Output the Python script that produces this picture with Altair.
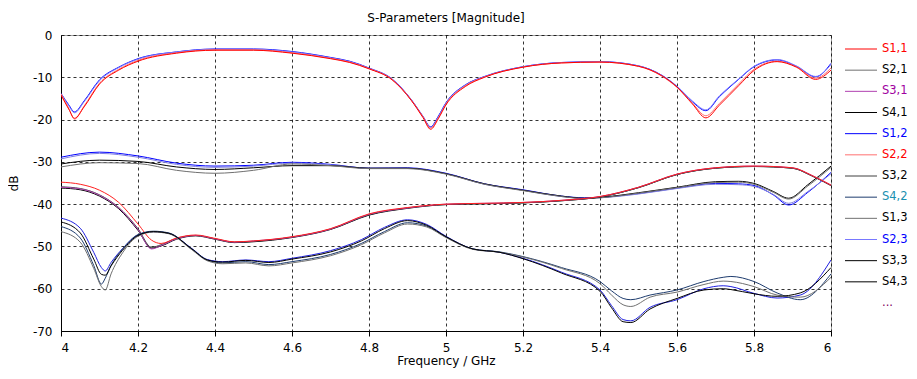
import altair as alt
import pandas as pd

# ---------------- data ----------------
# Group A: reflection-like curves near the top
freq_a = [4.0, 4.02, 4.035, 4.06, 4.1, 4.15, 4.2, 4.3, 4.4, 4.5, 4.6, 4.7, 4.75, 4.8, 4.86, 4.91,
          4.94, 4.96, 4.98, 5.0, 5.05, 5.1, 5.2, 5.3, 5.4, 5.5, 5.56, 5.6, 5.64, 5.675, 5.71, 5.76,
          5.8, 5.86, 5.91, 5.96, 6.0]
s11 = [-14.2, -17.5, -19.7, -17.0, -11.6, -8.3, -6.2, -4.3, -3.6, -3.6, -4.3, -5.6, -6.5, -8.0, -10.6, -15.5,
       -19.5, -22.3, -19.8, -16.5, -12.2, -10.0, -7.6, -6.6, -6.4, -7.4, -9.6, -12.3, -16.3, -19.6, -16.6, -12.0,
       -8.4, -6.3, -7.6, -10.5, -8.3]
s22 = [-13.9, -17.3, -19.9, -16.8, -11.4, -8.1, -6.0, -4.2, -3.5, -3.5, -4.2, -5.5, -6.4, -7.9, -10.5, -15.4,
       -19.3, -22.0, -19.6, -16.3, -12.0, -9.9, -7.6, -6.6, -6.4, -7.4, -9.7, -12.4, -16.1, -19.1, -16.2, -11.6,
       -8.1, -6.2, -7.5, -10.2, -7.8]
s12 = [-13.8, -16.5, -18.2, -15.6, -10.6, -7.6, -5.6, -4.0, -3.3, -3.3, -3.9, -5.3, -6.2, -7.8, -10.4, -15.3,
       -19.2, -21.7, -19.2, -16.0, -11.8, -9.8, -7.5, -6.5, -6.3, -7.3, -9.5, -12.2, -15.8, -17.9, -14.6, -10.5,
       -7.5, -5.9, -7.4, -9.9, -6.7]
s23 = [-13.9, -16.7, -18.4, -15.8, -10.8, -7.7, -5.7, -4.0, -3.4, -3.4, -4.0, -5.4, -6.3, -7.9, -10.5, -15.4,
       -19.3, -21.9, -19.4, -16.1, -11.9, -9.9, -7.5, -6.5, -6.3, -7.3, -9.5, -12.1, -15.6, -17.7, -14.4, -10.4,
       -7.4, -5.8, -7.3, -9.8, -7.0]

# Group B: curves around -30 dB
freq_b = [4.0, 4.1, 4.2, 4.3, 4.4, 4.5, 4.6, 4.7, 4.8, 4.9, 5.0, 5.1, 5.2, 5.3, 5.36, 5.4, 5.5,
          5.6, 5.7, 5.76, 5.8, 5.85, 5.89, 5.94, 6.0]
s34 = [-28.9, -27.7, -28.6, -30.3, -31.0, -30.8, -30.1, -30.6, -31.5, -31.4, -32.7, -35.2, -36.6, -38.1, -38.5,
       -38.4, -37.5, -36.2, -35.1, -35.2, -35.6, -37.8, -40.2, -37.2, -32.5]
s44 = [-29.3, -28.0, -28.9, -30.6, -31.3, -31.0, -30.3, -30.7, -31.5, -31.5, -32.8, -35.3, -36.7, -38.2, -38.6,
       -38.5, -37.6, -36.3, -35.3, -35.4, -35.8, -37.7, -39.8, -37.0, -32.8]
s41 = [-30.5, -29.6, -29.9, -31.2, -31.8, -31.4, -30.9, -30.9, -31.5, -31.5, -32.8, -35.2, -36.7, -38.1, -38.6,
       -38.4, -37.3, -36.0, -34.7, -34.6, -35.1, -37.0, -38.6, -35.4, -31.0]
s13 = [-31.2, -30.2, -30.4, -32.0, -32.7, -32.0, -30.5, -30.9, -31.6, -31.6, -32.9, -35.3, -36.8, -38.2, -38.7,
       -38.5, -37.4, -36.1, -34.9, -34.8, -35.3, -37.2, -38.8, -35.7, -31.3]

# Group C: curves starting near -35 dB
freq_c = [4.0, 4.05, 4.1, 4.15, 4.2, 4.235, 4.26, 4.3, 4.35, 4.4, 4.45, 4.5, 4.6, 4.7, 4.8, 4.9,
          5.0, 5.1, 5.2, 5.3, 5.4, 5.5, 5.6, 5.7, 5.8, 5.9, 5.95, 6.0]
s14 = [-34.8, -35.3, -36.7, -39.6, -44.7, -48.5, -49.3, -48.0, -47.3, -48.1, -48.9, -48.7, -47.7, -45.8, -42.3,
       -40.8, -40.0, -39.8, -39.6, -39.1, -38.2, -36.0, -32.9, -31.4, -31.0, -31.4, -33.2, -35.5]
s31 = [-36.0, -36.4, -37.9, -40.9, -46.0, -50.6, -49.8, -48.2, -47.4, -48.2, -49.0, -48.7, -47.8, -45.9, -42.4,
       -40.9, -40.0, -39.8, -39.6, -39.1, -38.2, -36.0, -32.9, -31.4, -31.0, -31.4, -33.2, -35.5]
s32 = [-35.9, -36.3, -37.8, -40.8, -45.8, -50.2, -49.6, -48.1, -47.4, -48.2, -49.0, -48.8, -47.8, -45.9, -42.5,
       -40.9, -40.1, -39.9, -39.7, -39.2, -38.3, -36.1, -33.0, -31.5, -31.1, -31.5, -33.3, -35.6]
s43 = [-36.2, -36.6, -38.1, -41.1, -46.2, -50.4, -49.9, -48.3, -47.5, -48.3, -49.1, -48.9, -47.9, -46.0, -42.6,
       -41.0, -40.1, -39.9, -39.7, -39.2, -38.3, -36.1, -33.0, -31.5, -31.1, -31.5, -33.3, -35.6]

# Group D: lowest curves
freq_d = [4.0, 4.05, 4.085, 4.105, 4.115, 4.13, 4.16, 4.2, 4.24, 4.28, 4.34, 4.38, 4.42, 4.48, 4.54,
          4.6, 4.7, 4.78, 4.84, 4.9, 4.95, 5.0, 5.07, 5.14, 5.2, 5.3, 5.4, 5.43, 5.46, 5.48, 5.53, 5.6,
          5.67, 5.72, 5.74, 5.8, 5.86, 5.92, 6.0]
s24 = [-43.3, -45.7, -51.4, -55.0, -55.8, -53.8, -50.5, -47.3, -46.5, -46.9, -50.5, -53.1, -53.6, -53.2, -53.6,
       -52.8, -51.0, -48.4, -45.5, -43.7, -44.8, -47.6, -50.6, -51.4, -52.8, -56.1, -60.3, -64.0, -67.3, -67.6,
       -64.4, -62.6, -60.0, -59.3, -59.5, -61.1, -62.2, -61.5, -53.2]
s42 = [-45.3, -48.0, -54.5, -58.9, -57.5, -54.5, -50.6, -47.2, -46.4, -46.8, -50.6, -53.2, -53.9, -53.6, -54.3,
       -53.6, -51.9, -49.3, -46.5, -44.4, -45.2, -47.8, -50.6, -51.3, -52.4, -55.0, -58.3, -60.5, -62.3, -62.6,
       -61.5, -60.3, -58.3, -57.3, -57.1, -58.3, -61.0, -62.6, -56.5]
s21 = [-46.5, -49.0, -55.2, -59.5, -60.3, -56.5, -51.5, -47.6, -46.6, -47.0, -50.8, -53.4, -54.1, -53.9, -54.6,
       -53.9, -52.2, -49.6, -46.8, -44.7, -45.4, -47.9, -50.7, -51.4, -52.5, -55.2, -58.8, -61.5, -63.8, -64.2,
       -62.0, -60.8, -59.0, -58.2, -58.3, -59.5, -61.5, -62.0, -57.3]
s33 = [-44.2, -46.8, -53.0, -56.6, -56.8, -54.6, -50.9, -47.4, -46.5, -46.9, -50.6, -53.2, -53.7, -53.3, -53.8,
       -53.0, -51.3, -48.7, -45.8, -43.9, -45.0, -47.7, -50.6, -51.4, -52.9, -56.3, -60.6, -64.5, -67.8, -68.0,
       -64.8, -62.3, -60.3, -60.0, -60.2, -61.2, -61.8, -61.0, -55.0]

# drawing order: later entries are drawn on top
series = [
    ("S3,4", freq_b, s34), ("S4,4", freq_b, s44), ("S4,1", freq_b, s41), ("S1,3", freq_b, s13),
    ("S4,3", freq_c, s43), ("S3,2", freq_c, s32), ("S3,1", freq_c, s31), ("S1,4", freq_c, s14),
    ("S2,4", freq_d, s24), ("S4,2", freq_d, s42), ("S2,1", freq_d, s21), ("S3,3", freq_d, s33),
    ("S1,2", freq_a, s12), ("S2,3", freq_a, s23), ("S2,2", freq_a, s22), ("S1,1", freq_a, s11),
]

legend_names = ["S1,1", "S2,1", "S3,1", "S4,1", "S1,2", "S2,2", "S3,2", "S4,2",
                "S1,3", "S2,3", "S3,3", "S4,3"]
legend_entries = legend_names + ["..."]
hidden_names = ["S1,4", "S2,4", "S3,4", "S4,4"]

x_ticks = [4, 4.2, 4.4, 4.6, 4.8, 5, 5.2, 5.4, 5.6, 5.8, 6]
y_ticks = [0, -10, -20, -30, -40, -50, -60, -70]

# ---------------- styles ----------------
line_colors = ["#FF0000", "#707070", "#B040B0", "#000000", "#0000FF", "#FF7070", "#404040", "#1E3C6E",
               "#707070", "#7878FF", "#000000", "#000000"]
hidden_colors = ["#FF2020", "#2020E0", "#0000FF", "#8080E0"]
label_colors = ["#FF0000", "#000000", "#A000A0", "#000000", "#0000FF", "#FF0000", "#000000", "#1890B0",
                "#000000", "#0000FF", "#000000", "#000000", "#800060"]

FONT = "DejaVu Sans"

rows = []
for k, (name, fr, vals) in enumerate(series):
    for f, v in zip(fr, vals):
        rows.append({"f": f, "db": v, "series": name, "z": k})
df = pd.DataFrame(rows)

lines = alt.Chart(df).mark_line(strokeWidth=1, interpolate="monotone", clip=True).encode(
    x=alt.X("f:Q", scale=alt.Scale(domain=[4, 6], nice=False, zero=False),
            axis=alt.Axis(values=x_ticks, labelExpr="toString(datum.value)", title="Frequency / GHz",
                          grid=True, tickSize=5, labelPadding=6, titlePadding=2)),
    y=alt.Y("db:Q", scale=alt.Scale(domain=[-70, 0], nice=False),
            axis=alt.Axis(values=y_ticks, labelExpr="toString(datum.value)", title="dB",
                          grid=True, ticks=False, labelPadding=9, titlePadding=12)),
    color=alt.Color("series:N", scale=alt.Scale(domain=legend_names + hidden_names,
                                                range=line_colors + hidden_colors), legend=None),
    detail="z:O",
)

leg_df = pd.DataFrame({"name": legend_entries})
leg_lines_df = pd.DataFrame({"name": legend_names})
leg_y = alt.Y("name:N", scale=alt.Scale(type="point", domain=legend_entries, range=[14, 268], padding=0),
              axis=None)

leg_rules = alt.Chart(leg_lines_df).mark_rule(strokeWidth=1).encode(
    x=alt.value(784), x2=alt.value(816), y=leg_y,
    color=alt.Color("name:N", scale=alt.Scale(domain=legend_names, range=line_colors), legend=None),
)
leg_text = alt.Chart(leg_df).mark_text(align="left", baseline="middle", fontSize=11.5, font=FONT).encode(
    x=alt.value(821), y=leg_y, text="name:N",
    color=alt.Color("name:N", scale=alt.Scale(domain=legend_entries, range=label_colors), legend=None),
)

chart = alt.layer(lines, leg_rules, leg_text).resolve_scale(
    y="independent", color="independent"
).properties(
    width=770, height=296,
    autosize=alt.AutoSizeParams(type="none"),
    padding={"left": 53, "top": 27, "right": 78, "bottom": 40},
    title=alt.TitleParams("S-Parameters [Magnitude]", fontSize=12, font=FONT, fontWeight="normal",
                          anchor="middle", offset=4, color="#000000"),
).configure_view(
    stroke="#A0A0A0", strokeWidth=1
).configure_axis(
    labelFont=FONT, labelFontSize=12, labelColor="#000000",
    titleFont=FONT, titleFontSize=12, titleFontWeight="normal", titleColor="#000000",
    domainColor="#000000", domainWidth=1, tickColor="#000000",
    gridColor="#000000", gridDash=[3, 3], gridOpacity=0.8, gridWidth=1,
)

chart.save("out.html", embed_options={"renderer": "svg", "actions": False})
